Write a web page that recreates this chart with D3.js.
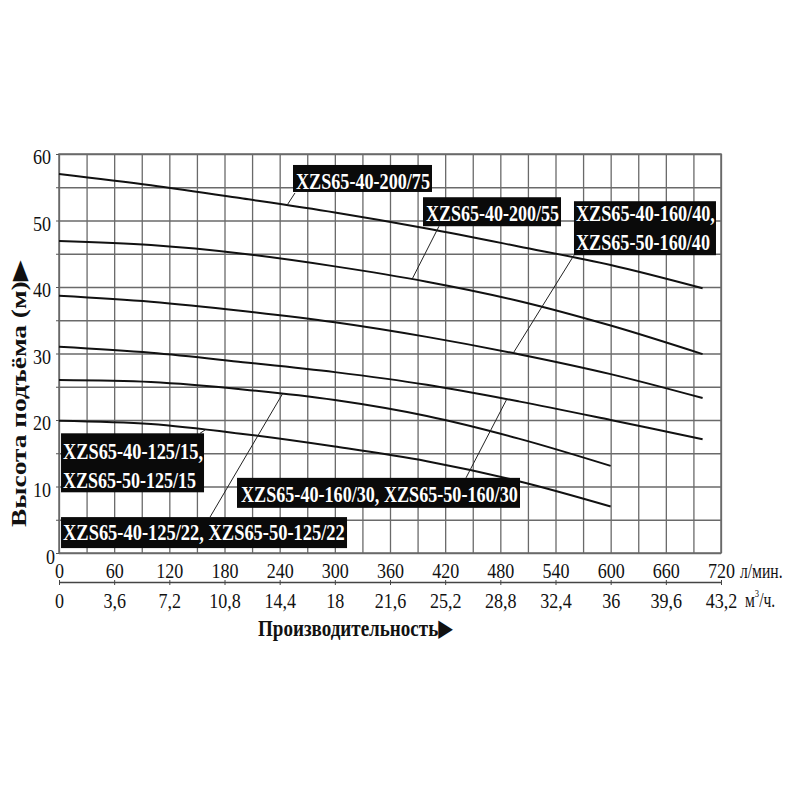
<!DOCTYPE html>
<html><head><meta charset="utf-8">
<script src="https://cdn.jsdelivr.net/npm/d3@7/dist/d3.min.js"></script>
<style>body{margin:0;background:#fff} svg{display:block;font-family:"Liberation Serif","DejaVu Serif",serif}</style>
</head><body><svg id="c" width="800" height="800"></svg>
<script>
// ---------- data ----------
const flowLong  = [0,100,200,300,400,500,600,700];   // л/мин
const flowShort = [0,100,200,300,400,500,600];
const head_200_75 = [57.0,55.3,53.3,51.2,48.8,46.1,43.3,39.8];
const head_200_55 = [46.9,46.3,45.0,43.1,40.8,37.9,34.2,29.9];
const head_160_40 = [38.7,37.8,36.4,34.7,32.5,29.9,26.9,23.3];
const head_160_30 = [31.0,30.1,28.7,27.2,25.3,22.8,20.0,17.1];
const head_125_22 = [26.0,25.7,24.6,23.0,20.6,17.2,13.1];
const head_125_15 = [19.9,19.4,17.9,16.0,13.8,10.8,7.0];
const seriesNames = ["200/75","200/55","160/40","160/30","125/22","125/15"];
const yTicks = [0,10,20,30,40,50,60];
const xTicksLpm = [0,60,120,180,240,300,360,420,480,540,600,660,720];
const xTicksM3h = [0,3.6,7.2,10.8,14.4,18,21.6,25.2,28.8,32.4,36,39.6,43.2];
const labelLines = [
  ["XZS65-40-200/75"],
  ["XZS65-40-200/55"],
  ["XZS65-40-160/40,","XZS65-50-160/40"],
  ["XZS65-40-125/15,","XZS65-50-125/15"],
  ["XZS65-40-160/30, XZS65-50-160/30"],
  ["XZS65-40-125/22, XZS65-50-125/22"]
];
const unitLpm = "л/мин.";
const xTitle = "Производительность▶";
const yTitle = "Высота подъёма (м)▶";

// ---------- layout ----------
const svg = d3.select("#c");
const L=59, R=721, T=154, B=553;
const x = d3.scaleLinear([0,720],[L,R]);
const xm = d3.scaleLinear([0,43.2],[L,R]);
const y = d3.scaleLinear([0,60],[B,T]);
const gridCol = "#6a6a6a";

function condense(sel,k){
  sel.each(function(){
    const w=this.getComputedTextLength();
    d3.select(this).attr("textLength",w*k).attr("lengthAdjust","spacingAndGlyphs");
  });
}
// place a text at (px,py) squeezed horizontally to a given width (rot = optional rotation)
function fitText(parent, str, px, py, width, attrs, rot){
  const t = parent.append("text").text(str);
  Object.entries(attrs).forEach(([k,v])=>t.attr(k,v));
  const w = t.node().getComputedTextLength();
  t.attr("transform",`translate(${px},${py})${rot?` rotate(${rot})`:""} scale(${width/w},1)`);
  return t;
}

// grid
const gx = svg.append("g").attr("transform",`translate(0,${B})`)
  .call(d3.axisBottom(x).tickValues(d3.range(0,721,30)).tickSize(-(B-T)).tickFormat(""));
const gy = svg.append("g").attr("transform",`translate(${L},0)`)
  .call(d3.axisLeft(y).tickValues(d3.range(0,61,5)).tickSize(-(R-L)).tickFormat(""));
[gx,gy].forEach(g=>{g.select(".domain").remove(); g.selectAll("line").attr("stroke",gridCol).attr("stroke-width",1.3);});
svg.append("rect").attr("x",L).attr("y",T).attr("width",R-L).attr("height",B-T)
  .attr("fill","none").attr("stroke",gridCol).attr("stroke-width",1.5);

// small outer ticks on left
const gyt = svg.append("g").attr("transform",`translate(${L},0)`)
  .call(d3.axisLeft(y).tickValues(d3.range(0,61,5)).tickSize(3).tickSizeOuter(0).tickFormat(""));
gyt.select(".domain").remove(); gyt.selectAll("line").attr("stroke","#555");

// y labels
const gyl = svg.append("g").attr("transform",`translate(${L},0)`)
  .call(d3.axisLeft(y).tickValues(yTicks).tickSize(0).tickPadding(8));
gyl.select(".domain").remove();
gyl.selectAll("text").attr("font-size",22).attr("fill","#111").attr("font-family","Liberation Serif")
  .attr("dy","0.36em")
  .attr("dx",d=>d===0?4:0).attr("y",d=>d===0?3:2);
condense(gyl.selectAll("text"),0.82);

// x labels row 1
const gxl = svg.append("g").attr("transform",`translate(0,${B})`)
  .call(d3.axisBottom(x).tickValues(xTicksLpm).tickSize(0));
gxl.select(".domain").remove();
gxl.selectAll("text").attr("font-size",22).attr("fill","#111").attr("font-family","Liberation Serif")
  .attr("y",25).attr("dy",0);
condense(gxl.selectAll("text"),0.82);

// second axis line with ticks + row 2 labels
const gm = svg.append("g").attr("transform",`translate(0,582)`)
  .call(d3.axisBottom(xm).tickValues(xTicksM3h).tickSize(3).tickSizeOuter(0)
    .tickFormat(d=>String(d).replace(".",",")));
gm.select(".domain").attr("stroke","#444").attr("stroke-width",1.3);
gm.selectAll("line").attr("stroke","#444").attr("y1",-2);
gm.selectAll("text").attr("font-size",22).attr("fill","#111").attr("font-family","Liberation Serif")
  .attr("y",26).attr("dy",0);
condense(gm.selectAll("text"),0.82);

// units
svg.append("text").attr("transform","translate(740,578) scale(0.78,1)")
  .attr("font-size",20).attr("fill","#111").text(unitLpm);
const um = svg.append("text").attr("transform","translate(745,607) scale(0.78,1)")
  .attr("font-size",20).attr("fill","#111");
um.append("tspan").text("м");
um.append("tspan").attr("font-size",11).attr("dy",-10).text("3");
um.append("tspan").attr("dy",10).text("/ч.");

// titles
fitText(svg, xTitle, 258, 636, 195, {"font-size":24,"font-weight":"bold","fill":"#111"});
fitText(svg, yTitle, 26, 527, 267, {"font-size":21,"font-weight":"bold","fill":"#111"}, -90);

// curves
const series = [
  {q:flowLong, h:head_200_75},
  {q:flowLong, h:head_200_55},
  {q:flowLong, h:head_160_40},
  {q:flowLong, h:head_160_30},
  {q:flowShort,h:head_125_22},
  {q:flowShort,h:head_125_15}
].map((s,i)=>({name:seriesNames[i], pts:s.q.map((q,j)=>[q,s.h[j]])}));
const line = d3.line().x(d=>x(d[0])).y(d=>y(d[1])).curve(d3.curveCatmullRom.alpha(0.5));
svg.append("g").selectAll("path").data(series).join("path")
  .attr("d",d=>line(d.pts)).attr("fill","none").attr("stroke","#111").attr("stroke-width",2);

function headAt(s,q){
  const p=s.pts; for(let i=1;i<p.length;i++){ if(q<=p[i][0]){const t=(q-p[i-1][0])/(p[i][0]-p[i-1][0]); return p[i-1][1]+t*(p[i][1]-p[i-1][1]);} }
  return p[p.length-1][1];
}

// annotation layout: box top-left in data units, size px, text offsets, leader
const ann = [
  {q:254.5,h:58.35,w:139,hh:27,tx:3,base:[24],len:[134],from:[2,28],s:0,tq:248},
  {q:395.9,h:53.5, w:138,hh:29,tx:3,base:[24],len:[133],from:[16,29],s:1,tq:384},
  {q:560.1,h:52.9, w:142,hh:54,tx:2,base:[20,49],len:[139,134],from:[0,54],s:2,tq:494},
  {q:2.2,  h:18.0, w:143,hh:59,tx:2,base:[26,55],len:[140,133],from:[139,0],s:5,tq:159},
  {q:193.6,h:11.3, w:283,hh:30,tx:4,base:[24],len:[277],from:[229,0],s:3,tq:487},
  {q:2.2,  h:5.4,  w:286,hh:31,tx:2,base:[23],len:[282],from:[149,0],s:4,tq:243}
];
const ag = svg.append("g");
ann.forEach((a,i)=>{
  const bx=x(a.q), by=y(a.h);
  ag.append("line").attr("x1",bx+a.from[0]).attr("y1",by+a.from[1])
    .attr("x2",x(a.tq)).attr("y2",y(headAt(series[a.s],a.tq)))
    .attr("stroke","#222").attr("stroke-width",1);
  ag.append("rect").attr("x",bx).attr("y",by).attr("width",a.w).attr("height",a.hh).attr("fill","#0a0a0a");
  labelLines[i].forEach((t,j)=>{
    fitText(ag, t, bx+a.tx, by+a.base[j], a.len[j],
      {"font-size":24,"font-weight":"bold","fill":"#fff"});
  });
});
</script></body></html>
